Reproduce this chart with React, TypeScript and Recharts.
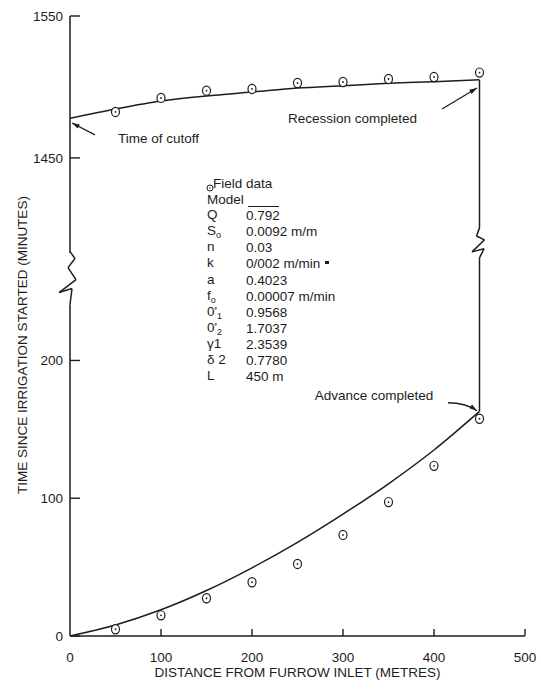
import React from 'react';
import {
  ComposedChart,
  Line,
  Scatter,
  XAxis,
  YAxis,
  ReferenceLine,
  ReferenceDot,
  Label
} from 'recharts';

const FONT = '"Liberation Sans", Arial, Helvetica, sans-serif';
const INK = '#1d1d1d';

// distance from furrow inlet (m)
const distance = [0, 50, 100, 150, 200, 250, 300, 350, 400, 450];
const fieldDistance = [50, 100, 150, 200, 250, 300, 350, 400, 450];

// recession, minutes since irrigation started
const recessionModel = [1478, 1484.5, 1490.1, 1493.7, 1496.4, 1499.2, 1500.9, 1502.6, 1503.7, 1505];
const recessionField = [1482.4, 1492.3, 1497.4, 1498.6, 1502.8, 1503.5, 1505.6, 1507.0, 1510.1];

// advance, minutes since irrigation started
const advanceModel = [0, 8, 19, 33, 49.5, 68, 88.5, 110.5, 135, 163];
const advanceField = [4.9, 15.0, 27.4, 39.0, 52.3, 73.4, 97.2, 123.5, 157.7];

const xTicks = [0, 100, 200, 300, 400, 500];
const topTicks = [1450, 1550];
const bottomTicks = [0, 100, 200];

// model parameters shown in the key
const paramSymbols = [['Q', ''], ['S', 'o'], ['n', ''], ['k', ''], ['a', ''], ['f', 'o'], ["0'", '1'], ["0'", '2'], ['γ1', ''], ['δ 2', ''], ['L', '']];
const paramValues = ['0.792', '0.0092 m/m', '0.03', '0/002 m/min', '0.4023', '0.00007 m/min', '0.9568', '1.7037', '2.3539', '0.7780', '450 m'];

// axis break zigzags, [distance, time]
const leftBreak = [[0, 279], [5.5, 274], [-2.2, 267.4], [6.6, 258.7], [-12, 249.3], [2.2, 252.2], [0, 240.6], [0, 0]];
const rightBreakTop = [[450, 1505], [450, 1400.7], [446.7, 1395], [455.5, 1392.3], [441.8, 1383.8], [455, 1386], [450, 1379.6]];
const rightBreakBottom = [[450, 274.7], [450, 163]];

const toPoints = (xs: number[], ys: number[]) => xs.map((x, i) => ({ x, y: ys[i] }));
const recessionModelData = toPoints(distance, recessionModel);
const recessionFieldData = toPoints(fieldDistance, recessionField);
const advanceModelData = toPoints(distance, advanceModel);
const advanceFieldData = toPoints(fieldDistance, advanceField);

const W = 541;
const TOP_H = 253;
const AXIS_W = 70;
const BOTTOM_H = 690 - TOP_H;
const X_AXIS_H = 54;
const PLOT_BOTTOM = BOTTOM_H - X_AXIS_H;

// ticks point inwards, as in the printed figure
const YTick = (props: any) => {
  const { y, payload } = props;
  return (
    <g>
      <line x1={AXIS_W} y1={y} x2={AXIS_W + 10} y2={y} stroke={INK} strokeWidth={1.4} />
      <text x={AXIS_W - 7} y={y} dy="0.36em" textAnchor="end" fontFamily={FONT} fontSize={13.5} fill={INK}>
        {payload.value}
      </text>
    </g>
  );
};

const XTick = (props: any) => {
  const { x, payload } = props;
  return (
    <g>
      {payload.value !== 0 && <line x1={x} y1={PLOT_BOTTOM} x2={x} y2={PLOT_BOTTOM - 7} stroke={INK} strokeWidth={1.4} />}
      <text x={x} y={PLOT_BOTTOM + 16} dy="0.71em" textAnchor="middle" fontFamily={FONT} fontSize={13.5} fill={INK}>
        {payload.value}
      </text>
    </g>
  );
};

const FieldMark = (props: any) => {
  const { cx, cy } = props;
  return (
    <g>
      <ellipse cx={cx} cy={cy} rx={4} ry={4.6} fill="#fff" stroke={INK} strokeWidth={1.2} />
      <circle cx={cx} cy={cy} r={0.9} fill={INK} />
    </g>
  );
};

const Arrow = (props: any) => {
  const { x1, y1, x2, y2 } = props;
  const a = Math.atan2(y2 - y1, x2 - x1);
  const h = 8;
  const p1 = [x2 - h * Math.cos(a - 0.3), y2 - h * Math.sin(a - 0.3)];
  const p2 = [x2 - h * Math.cos(a + 0.3), y2 - h * Math.sin(a + 0.3)];
  return (
    <g>
      <line x1={x1} y1={y1} x2={x2} y2={y2} stroke={INK} strokeWidth={1.3} />
      <path d={`M${x2},${y2} L${p1[0]},${p1[1]} L${p2[0]},${p2[1]} Z`} fill={INK} />
    </g>
  );
};

const CurvedArrow = (props: any) => {
  const { x1, y1, x2, y2 } = props;
  const qx = x1 + 0.6 * (x2 - x1);
  const qy = y1;
  const a = Math.atan2(y2 - qy, x2 - qx);
  const h = 8;
  const p1 = [x2 - h * Math.cos(a - 0.3), y2 - h * Math.sin(a - 0.3)];
  const p2 = [x2 - h * Math.cos(a + 0.3), y2 - h * Math.sin(a + 0.3)];
  return (
    <g>
      <path d={`M${x1},${y1} Q${qx},${qy} ${x2},${y2}`} fill="none" stroke={INK} strokeWidth={1.3} />
      <path d={`M${x2},${y2} L${p1[0]},${p1[1]} L${p2[0]},${p2[1]} Z`} fill={INK} />
    </g>
  );
};

const note = (text: string) => (props: any) => (
  <text x={props.cx} y={props.cy} fontFamily={FONT} fontSize={13.5} fill={INK}>
    {text}
  </text>
);

const polyline = (pts: number[][], key: string) =>
  pts.slice(1).map((p, i) => (
    <ReferenceLine
      key={`${key}-${i}`}
      segment={[{ x: pts[i][0], y: pts[i][1] }, { x: p[0], y: p[1] }]}
      stroke={INK}
      strokeWidth={1.5}
      ifOverflow="visible"
    />
  ));

const ParamKey = () => (
  <div
    style={{
      position: 'absolute',
      left: 203,
      top: 176,
      fontFamily: FONT,
      fontSize: 13.5,
      lineHeight: '16.1px',
      color: INK,
      whiteSpace: 'nowrap'
    }}
  >
    <div style={{ position: 'relative', height: 16.1 }}>
      <svg width={8} height={8} style={{ position: 'absolute', left: 3, top: 8 }}>
        <circle cx={4} cy={4} r={3} fill="none" stroke={INK} strokeWidth={1} />
        <circle cx={4} cy={4} r={0.7} fill={INK} />
      </svg>
      <span style={{ position: 'absolute', left: 10 }}>Field data</span>
    </div>
    <div style={{ position: 'relative', height: 16.1 }}>
      <span style={{ position: 'absolute', left: 4 }}>Model</span>
      <span style={{ position: 'absolute', left: 45, top: 14, width: 31, borderTop: `1.3px solid ${INK}` }} />
    </div>
    {paramSymbols.map(([s, sub], i) => (
      <div key={i} style={{ position: 'relative', height: 16.1 }}>
        <span style={{ position: 'absolute', left: 4, lineHeight: '14px' }}>
          {s}
          {sub && <span style={{ fontSize: 9, position: 'relative', top: 3 }}>{sub}</span>}
        </span>
        <span style={{ position: 'absolute', left: 43 }}>
          {paramValues[i]}
          {i === 3 && (
            <span style={{ display: 'inline-block', width: 3.5, height: 3.5, background: INK, marginLeft: 5, verticalAlign: 4 }} />
          )}
        </span>
      </div>
    ))}
  </div>
);

export default function App() {
  return (
    <div style={{ position: 'absolute', left: 0, top: 0, width: W, height: 690, background: '#fff', overflow: 'hidden' }}>
      <style>{'.recharts-surface{overflow:visible}'}</style>

      <div style={{ position: 'absolute', left: 0, top: 0 }}>
        <ComposedChart width={W} height={TOP_H} margin={{ top: 16, right: 16, bottom: 0, left: 0 }}>
          <XAxis type="number" dataKey="x" domain={[0, 500]} hide allowDataOverflow />
          <YAxis
            type="number"
            dataKey="y"
            domain={[1383, 1550]}
            ticks={topTicks}
            interval={0}
            width={AXIS_W}
            allowDataOverflow
            axisLine={{ stroke: INK, strokeWidth: 1.5 }}
            tickLine={false}
            tick={(p: any) => <YTick {...p} />}
          />
          <Line
            data={recessionModelData}
            dataKey="y"
            type="monotone"
            stroke={INK}
            strokeWidth={1.5}
            dot={false}
            isAnimationActive={false}
          />
          <Scatter data={recessionFieldData} shape={(p: any) => <FieldMark {...p} />} isAnimationActive={false} />
          {polyline(rightBreakTop, 'rb')}
          <ReferenceLine segment={[{ x: 27.5, y: 1466.2 }, { x: 2.2, y: 1474.6 }]} shape={Arrow} ifOverflow="visible" />
          <ReferenceLine segment={[{ x: 408.8, y: 1484.5 }, { x: 447.3, y: 1499.3 }]} shape={Arrow} ifOverflow="visible" />
          <ReferenceDot x={52.7} y={1460.6} r={0} shape={note('Time of cutoff')} ifOverflow="visible" />
          <ReferenceDot x={239.6} y={1474.6} r={0} shape={note('Recession completed')} ifOverflow="visible" />
        </ComposedChart>
      </div>

      <div style={{ position: 'absolute', left: 0, top: TOP_H }}>
        <ComposedChart width={W} height={BOTTOM_H} margin={{ top: 0, right: 16, bottom: 0, left: 0 }}>
          <XAxis
            type="number"
            dataKey="x"
            domain={[0, 500]}
            ticks={xTicks}
            interval={0}
            height={X_AXIS_H}
            allowDataOverflow
            axisLine={{ stroke: INK, strokeWidth: 1.5 }}
            tickLine={false}
            tick={(p: any) => <XTick {...p} />}
          >
            <Label
              value="DISTANCE FROM FURROW INLET (METRES)"
              position="insideBottom"
              offset={13}
              style={{ fontFamily: FONT, fontSize: 13.5, fill: INK }}
            />
          </XAxis>
          <YAxis
            type="number"
            dataKey="y"
            domain={[0, 278]}
            ticks={bottomTicks}
            interval={0}
            width={AXIS_W}
            allowDataOverflow
            axisLine={false}
            tickLine={false}
            tick={(p: any) => <YTick {...p} />}
          />
          {polyline(leftBreak, 'lb')}
          {polyline(rightBreakBottom, 'rbb')}
          <Line
            data={advanceModelData}
            dataKey="y"
            type="monotone"
            stroke={INK}
            strokeWidth={1.5}
            dot={false}
            isAnimationActive={false}
          />
          <Scatter data={advanceFieldData} shape={(p: any) => <FieldMark {...p} />} isAnimationActive={false} />
          <ReferenceLine segment={[{ x: 415.4, y: 169.3 }, { x: 447.3, y: 163.5 }]} shape={CurvedArrow} ifOverflow="visible" />
          <ReferenceDot x={269} y={171.5} r={0} shape={note('Advance completed')} ifOverflow="visible" />
        </ComposedChart>
      </div>

      <div
        style={{
          position: 'absolute',
          left: 22,
          top: 345,
          transform: 'translate(-50%, -50%) rotate(-90deg)',
          fontFamily: FONT,
          fontSize: 13.5,
          color: INK,
          whiteSpace: 'nowrap'
        }}
      >
        TIME SINCE IRRIGATION STARTED (MINUTES)
      </div>

      <ParamKey />
    </div>
  );
}
